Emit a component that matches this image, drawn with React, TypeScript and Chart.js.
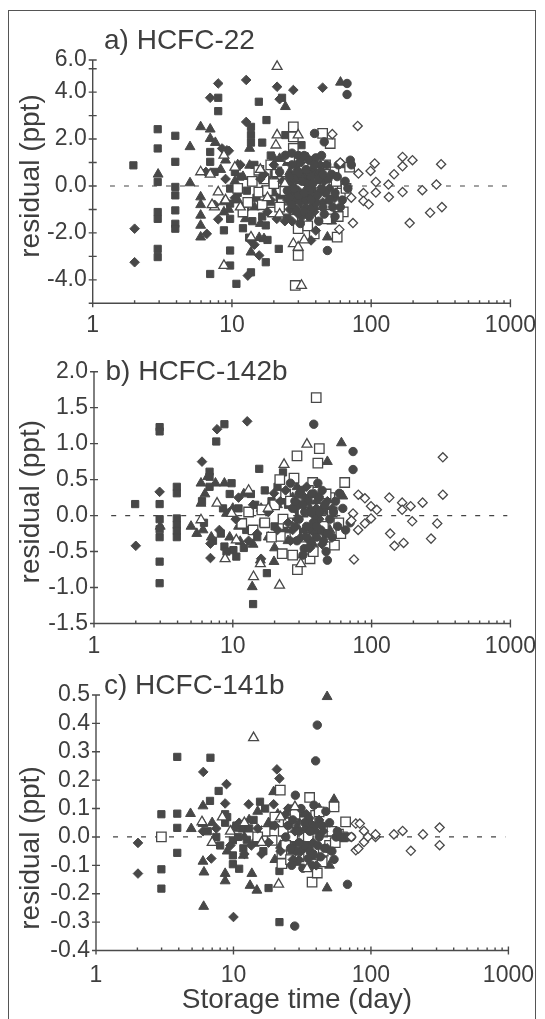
import React, { useEffect, useRef } from "react";
import { Chart, registerables } from "chart.js";

Chart.register(...registerables);

type Pt = [number, number];

// ---------------- axis values ----------------
const xTickValues = [1, 2, 3, 4, 5, 6, 7, 8, 9, 10, 20, 30, 40, 50, 60, 70, 80, 90, 100, 200, 300, 400, 500, 600, 700, 800, 900, 1000];
const xLabelValues = [1, 10, 100, 1000];

const yTickValuesA = [-5, -4, -3, -2, -1, 0, 1, 2, 3, 4, 5, 5.37];
const yTickLabelsA = ["", "-4.0", "", "-2.0", "", "0.0", "", "2.0", "", "4.0", "", "6.0"];
const yTickValuesB = [-1.5, -1, -0.5, 0, 0.5, 1, 1.5, 2];
const yTickLabelsB = ["-1.5", "-1.0", "-0.5", "0.0", "0.5", "1.0", "1.5", "2.0"];
const yTickValuesC = [-0.4, -0.3, -0.2, -0.1, 0, 0.1, 0.2, 0.3, 0.4, 0.5];
const yTickLabelsC = ["-0.4", "-0.3", "-0.2", "-0.1", "0.0", "0.1", "0.2", "0.3", "0.4", "0.5"];

const zeroLine: Pt[] = [[1.33, 0], [950, 0]];

// ---------------- panel a) HCFC-22 ----------------
const sqA: Pt[] = [[1.96,0.88],[2.93,2.42],[2.93,1.6],[2.93,0.17],[2.93,-1.11],[2.93,-1.4],[2.93,-2.68],[2.93,-3.03],
  [3.92,2.14],[3.92,1.03],[3.92,-0.04],[3.92,-0.4],[3.92,-1.04],[3.92,-1.61],[3.92,-1.82],
  [7.97,3.76],[7.97,3.19],[6.98,1.45],[6.98,1.03],[7.5,0.6],[9.7,-0.11],[9.7,-0.75],[9.7,-1.4],[9.7,-2.75],[9.7,-3.39],
  [8.76,-1.89],[6.98,-3.75],[10.77,-4.17],[13.7,-3.68],[13.7,2.52],[13.7,2.17],[13.7,1.85],[16.5,1.85],[15.6,3.59],
  [17.7,2.81],[22.9,3.76],[24.2,2.17],[31.6,1.74],[21.7,-2.68],[17.5,-3.25],[17.5,-1.68],[11,-0.3],[12.5,-0.9],
  [14,-1.5],[15,-0.5],[16.5,-1.3],[11.5,0.4],[19.5,-0.1],[26,0.3],[33,-0.8],[36,0.9],[13.3,-2.2],[12.8,-0.2],
  [20,0.5],[22,-0.5],[25,-1.3],[28,-0.3],[30,-0.6],[34,0.4],[38,-0.2],[10.5,0.6],[12,-1.8],[14.5,0.9],[18,-2.3],[19,1.3]];
const dmA: Pt[] = [[2,-1.82],[2,-3.25],[7.97,4.37],[12.66,4.52],[21.1,4.23],[27.6,4.09],[44.8,4.19],[6.98,3.76],[12.66,2.73],
  [7.97,-1.42],[6.6,-2.04],[13,-3.82],[15.7,-2.96],[9.2,1.52],[37,-2.32],[8.5,1.6],[9.5,1.5],[14.5,-2.5],[22,3.7],
  [18,-1.1],[25,-0.6],[28,0.5],[30,-0.2],[34,-0.9],[38,0.7],[42,-0.3],[46,0.2],[55,-0.5],[20,0.9],[16,0.3],[11.5,0.9],
  [24,-1.5],[32,-1.3],[40,-1.9],[6.5,0.6],[7.5,-0.8],[13.5,-2.3],
  [23,0.2],[26,-1.0],[29,0.9],[33,0.2],[36,-0.4],[39,-1.1],[43,0.9],[50,-0.1],[19,-0.6],[21,-1.4],[27,-1.5],[31,-0.7],
  [35,0.6],[45,-0.7],[17,0.5],[10.5,-0.5],[9,0.3],
  [28,-0.6],[31,0.4],[34,-0.3],[37,-1.0],[40,0.5],[30,-1.2],[26,0.1],[35,-0.1]];
const trA: Pt[] = [[5,1.67],[5,0.13],[2.95,0.5],[5.96,2.52],[6.98,2.42],[6.98,2.02],[7.6,1.85],[5.96,-0.47],[5.96,-1.25],
  [5.96,-2.18],[5.96,-1.68],[5.96,-0.8],[8.76,-0.68],[8.76,-1.11],[13.4,1.6],[13.4,0.88],[13.7,-2.82],[24.2,3.38],
  [60.2,4.42],[22,1.17],[15.7,-2.2],[17,-2.25],[48.5,-2.18],[8.3,0.7],[9,1.1],[11,0.9],[12,0.4],[14.5,-0.9],[16,-1.6],
  [19,-0.7],[21,0.4],[25,1.0],[27,-0.4],[29,-1.1],[31,0.2],[35,1.2],[38,-0.6],[45,0.9],[62,0.9],[20,-0.3],[9.5,-1.0],[12.5,-1.4],
  [23,-0.8],[26,0.6],[28,-0.9],[33,-0.1],[37,0.3],[41,-1.1],[18,0.3],[20,1.2],[10.5,0.2],[11,-0.6],[30,0.8],[44,-0.4],
  [52,-1.5],[16.5,-0.2],
  [30,-0.5],[33,0.5],[36,-0.8],[39,0.5],[27,0.0],[24,-0.5]];
const ciA: Pt[] = [[39.2,2.24],[46,1.88],[67.1,4.37],[67.1,3.9],[48.5,-2.75],[24.2,1.31],[70.8,1.1],[27,0.9],[30,1.3],
  [33,1.3],[36,1.1],[40,1.2],[43,0.6],[47,-0.3],[50,-0.6],[55,-1.3],[60,-0.9],[65,0.2],[72,0.9],[26,-0.5],[29,-1.0],
  [32,-0.4],[35,0.1],[38,-0.9],[42,-1.5],[45,-0.9],[52,0.5],[58,0.9],[68,-0.1],[28,0.3],[31,-1.6],[44,1.3],[55,-0.3],
  [22,0.6],[25,-0.2],[27,1.4],[30,0.6],[34,-0.6],[37,0.4],[41,-0.4],[46,-1.2],[49,0.3],[53,-0.9],[57,0.4],[62,-0.6],
  [33,-1.1],[39,0.9],[29,-0.2],[44,-0.1],[48,0.9],[36,-1.3],[26,0.4],[31,1.0],
  [27,-0.8],[30,-0.4],[32,0.2],[34,0.7],[36,-0.2],[38,0.1],[40,-0.7],[42,0.3],[45,0.5],[33,-0.3],[28,-0.1],[37,-0.6]];
const otA: Pt[] = [[21.1,5.09],[5.96,0.6],[6.98,0.5],[8.76,1.31],[21.1,2.17],[20.7,1.74],[29.9,2.17],[7.97,-0.26],[7.5,-0.9],
  [13.7,-2.18],[27.6,-2.46],[29.9,-2.61],[8.76,-3.39],[31.6,-4.24],[10.5,0.8],[11.5,-0.9],[16,0.7],[18,-0.5],[22,-1.2],
  [24,0.1],[7.2,-0.8],[9,-0.6],[33,-2.3]];
const osA: Pt[] = [[27.6,2.52],[27.6,2.09],[27.6,1.6],[44.8,2.24],[50.8,1.81],[15.6,0.67],[12,-1.11],[15.6,-0.26],
  [22.9,-0.75],[29.9,-1.82],[29.9,-2.96],[28.5,-4.24],[54,0.6],[57,-2.18],[39,-2.04],[19.6,-1.11],[13,-0.7],[17,0.3],
  [21,0.6],[24,-0.2],[26,1.2],[33,0.8],[36,-0.5],[40,0.3],[43,-1.2],[47,0.9],[50,-0.8],[53,-0.2],[60,-0.3],[63,-1.1],
  [66,-0.1],[70,0.8],[32,-1.4],[35,-1.7],[25,-1.0],[19,0.9],[23,0.2],
  [18,-0.2],[20,0.1],[22,-0.9],[26,-0.6],[29,0.4],[31,-0.1],[34,-0.9],[38,1.0],[42,0.6],[45,-0.4],[48,-1.4],[56,0.2],
  [58,-1.3],[11,-0.1],[14,0.2],[16.5,-0.8]];
const odA: Pt[] = [[80,2.56],[52.6,2.21],[106,0.96],[99,0.64],[146,0.5],[168,1.24],[198,1.1],[168,0.84],[318,0.93],
  [108,0.17],[133,0.06],[294,0.06],[88,-0.3],[108,-0.28],[134,-0.47],[168,-0.26],[233,-0.18],[88,-0.64],[96,-0.78],
  [74,-1.58],[189,-1.58],[265,-1.14],[322,-0.9],[59,-1.85],[81,0.53],[72,-0.5],[60,1.0]];

// ---------------- panel b) HCFC-142b ----------------
const sqB: Pt[] = [[1.98,0.16],[2.97,1.23],[2.97,1.17],[2.97,0.16],[2.97,-0.05],[2.97,-0.19],[2.97,-0.3],[2.97,-0.64],
  [2.97,-0.94],[3.95,0.4],[3.95,0.31],[3.95,-0.04],[3.95,-0.13],[3.95,-0.21],[3.95,-0.3],[7.6,1.03],[8.7,1.27],[6.8,0.61],
  [6.8,0.54],[6.8,0.4],[8.7,-0.43],[10.1,-0.48],[15.5,0.65],[17.6,-0.8],[14,-1.23],[9.8,0.45],[10.6,-0.57],[9.5,0.3],
  [11,0.1],[12.5,-0.2],[13.5,0.3],[15,-0.3],[16.5,-0.1],[19,0.2],[23,0.6],[8.2,-0.25],[6.2,-0.1],[6,0.2],
  [17,0.35],[20,-0.15],[21,0.4],[25,0.15],[28,-0.3],[30,0.05],[14.5,0.15],[12,-0.45],[8.5,0.1],[7.2,-0.35],[9,-0.5]];
const dmB: Pt[] = [[2,-0.42],[2.97,0.33],[6,0.75],[6.9,-0.59],[7.7,1.2],[12.7,1.31],[6.9,-0.39],[19.8,0.31],[22,0.2],
  [16,-0.6],[25,-0.1],[28,0.1],[31,-0.3],[34,0.4],[37,-0.2],[40,0.1],[44,-0.4],[48,0.2],[11,0.25],[13,-0.35],[8,-0.2],[9.5,0.05],
  [18,0.05],[21,-0.2],[24,0.35],[26,-0.35],[29,-0.05],[33,0.25],[36,-0.45],[39,0.3],[42,-0.05],[46,-0.25],[52,0.1],
  [14,0.15],[15,-0.25],[10.5,-0.05],
  [30,0.15],[33,-0.2],[36,0.05],[39,-0.25],[27,-0.2]];
const trB: Pt[] = [[3,-0.15],[5,-0.15],[5.9,0.45],[5.9,0.17],[6.6,0.54],[8.7,0.45],[9,0.03],[6.1,-0.2],[13.8,-0.99],
  [15.8,-0.62],[19.8,-0.64],[48,0.75],[60.6,1.01],[62,0.27],[29,0.4],[11.3,-0.36],[12,0.3],[14,-0.4],[21,0.15],[24,-0.2],
  [27,0.25],[32,-0.55],[36,0.1],[42,-0.1],[6.3,0.3],[7.5,0.45],[5.5,-0.25],
  [16,0.1],[18,-0.3],[20,-0.45],[23,0.2],[25,-0.35],[30,-0.2],[34,0.3],[38,-0.4],[40,0.2],[45,0.05],[50,-0.2],[10,0.1],
  [9.5,-0.3],[7,-0.3],[11,-0.15]];
const ciB: Pt[] = [[38.3,1.27],[73.5,0.89],[73.5,0.64],[48,-0.62],[47,-0.5],[58.6,0.31],[32.7,-0.46],[30,0.3],[35,0.2],
  [38,-0.1],[42,0.25],[45,0.1],[50,-0.05],[55,0.2],[65,-0.2],[70,-0.1],[28,-0.15],[33,0.05],[40,-0.3],[52,-0.3],[26,0.45],
  [36,-0.35],[44,0.35],
  [27,0.1],[29,-0.35],[31,0.35],[34,-0.15],[37,0.3],[39,0.0],[43,-0.2],[46,0.15],[48,-0.25],[53,0.05],[57,-0.15],[62,0.1],
  [32,-0.55],[41,0.45],[35,-0.45],
  [30,-0.05],[32,0.15],[34,-0.3],[37,0.05],[40,-0.15],[42,0.05],[45,-0.35],[28,0.2]];
const otB: Pt[] = [[34.2,0.99],[7.7,0.17],[8.8,-0.6],[9.8,0.03],[10.6,-0.34],[14.1,-0.85],[21.7,-0.97],[23.4,0.71],
  [15.8,-0.67],[30.9,-0.67],[5.9,-0.06],[13,0.35],[18,0.1]];
const osB: Pt[] = [[39.9,1.64],[42,0.93],[41,0.73],[29,0.83],[27.6,0.52],[21.8,0.5],[37.6,0.46],[64,0.46],[29.2,-0.75],
  [22,-0.29],[22.7,-0.53],[54,-0.41],[11.6,-0.11],[16.2,0.08],[25,-0.1],[27,-0.55],[33,-0.3],[45,-0.15],[50,0.25],
  [58,-0.1],[19,-0.3],[14,-0.2],[31,0.15],[47,0.3],[24,0.3],[36,-0.6],
  [17,-0.1],[20,0.15],[23,-0.05],[26,0.2],[28,-0.25],[32,0.05],[35,0.35],[38,-0.5],[43,0.1],[48,-0.3],[52,0.05],[60,-0.25],[13,0.05]];
const odB: Pt[] = [[326,0.81],[326,0.29],[80.2,0.29],[89.5,0.24],[73.5,0.03],[71.5,-0.07],[80,-0.2],[89.5,-0.11],
  [99,-0.04],[99,0.13],[109,0.08],[134,0.25],[166,0.18],[166,0.08],[191,0.13],[233,0.18],[196,-0.08],[136,-0.25],
  [146,-0.42],[170,-0.38],[268,-0.32],[297,-0.11],[74.6,-0.61]];

// ---------------- panel c) HCFC-141b ----------------
const sqC: Pt[] = [[2.99,-0.114],[2.99,-0.182],[2.99,0.08],[3.9,0.282],[3.9,0.082],[3.9,0.032],[3.9,-0.056],[6.8,0.279],
  [6.75,0.127],[7.8,0.162],[8.7,0.08],[8.7,0.05],[9.9,-0.012],[9.9,-0.065],[9.9,-0.096],[11,-0.112],[15.6,0.124],
  [18,-0.18],[21.6,-0.3],[21.6,-0.12],[12.5,-0.01],[14.5,-0.02],[16.5,-0.05],[11.5,0.03],[7.5,0.0],[9,0.07],[10.5,0.04],
  [13,0.03],[17,0.1],
  [19,0.04],[23,-0.06],[26,0.1],[28,-0.03],[11.8,-0.04],[8,-0.03],[6.5,0.02],[14,0.06],[10.8,0.0]];
const dmC: Pt[] = [[2.02,-0.021],[2.02,-0.129],[6.03,0.229],[6.9,-0.076],[8.9,0.186],[8.7,0.118],[12.9,0.115],[10,-0.282],
  [20.7,0.238],[21.6,0.206],[19.6,0.115],[6,0.02],[11,0.05],[13.5,-0.03],[16,-0.06],[24,0.08],[28,0.02],[32,-0.04],
  [36,0.05],[40,-0.1],[45,0.02],
  [15,0.03],[18,-0.02],[20,0.04],[22,-0.05],[25,0.1],[30,-0.08],[34,0.08],[38,-0.02],[42,0.06],[48,-0.04],[12,-0.06],
  [9.5,-0.03],[7.5,0.03],
  [29,0.03],[31,-0.05],[35,0.06],[27,-0.08]];
const trC: Pt[] = [[48,0.494],[4.87,0.082],[4.93,0.029],[6,0.109],[6,0.047],[6,-0.086],[6.1,-0.124],[6.07,-0.245],
  [8.7,-0.129],[8.7,-0.155],[11.8,-0.065],[13.6,-0.129],[13.2,-0.171],[14.8,-0.188],[19.6,0.159],[48,-0.18],
  [53.9,0.132],[53.9,0.115],[13,0.06],[15,0.09],[21,0.08],[24,0.01],[27,-0.05],[30,0.05],[35,-0.03],[40,0.02],
  [12,0.0],[20,-0.08],[44,-0.06],
  [16,0.02],[18,0.05],[22,-0.03],[25,0.05],[29,-0.09],[32,0.08],[37,-0.07],[42,0.1],[46,0.03],[50,-0.1],[10,0.03],
  [9,-0.05],[7,0.05]];
const ciC: Pt[] = [[40.7,0.394],[39.6,0.268],[28.2,0.147],[35.3,0.065],[67.5,-0.167],[27.9,-0.314],[35,-0.076],
  [26.5,-0.1],[53.9,-0.079],[55.8,0.0],[60,0.0],[64,0.0],[68,0.0],[72,0.0],[38.5,0.112],[30,0.02],[33,-0.03],[42,0.0],
  [46,-0.04],[50,0.05],[25,0.04],[37,-0.1],[44,0.04],
  [24,0.0],[27,0.06],[29,-0.05],[31,0.1],[34,0.03],[36,-0.05],[39,0.04],[43,-0.07],[47,0.09],[52,-0.05],[57,0.02],
  [32,-0.11],[41,-0.03],
  [30,-0.02],[33,0.05],[36,0.02],[38,-0.06],[26,-0.04]];
const otC: Pt[] = [[14,0.349],[5.9,0.053],[8.3,0.07],[28,0.106],[21.3,-0.167],[34.3,-0.112],[16,-0.02],[9.5,0.02],
  [12,0.05],[22,0.07],[7,-0.02]];
const osC: Pt[] = [[2.99,0.0],[21.9,0.165],[35.8,0.139],[39.6,0.076],[42,0.088],[53.9,0.106],[65.4,0.053],[37.3,-0.159],
  [40.7,-0.127],[44.2,-0.088],[22.5,-0.059],[22.5,-0.094],[19.1,-0.012],[27,0.0],[30,-0.07],[33,0.04],[47,0.02],
  [58,0.01],[25,0.05],[17,0.02],[50,-0.03],[62,0.0],[24,-0.03],
  [20,0.07],[23,0.02],[26,-0.08],[28,0.08],[31,-0.03],[35,0.0],[38,0.05],[45,-0.05],[52,0.02],[55,-0.02],[15,0.0]];
const odC: Pt[] = [[316,0.033],[316,-0.029],[239,0.009],[195,-0.049],[170,0.021],[147,0.009],[108,0.0],[108,0.009],
  [89,0.021],[89,-0.018],[77.6,0.047],[83,0.047],[77.6,-0.047],[81,-0.041],[72,0.0],[95,0.0]];

// ---------------- styling ----------------
const FONT = '"Liberation Sans", Arial, Helvetica, sans-serif';
const INK = "#484848";
const TEXT = "#3e3e3e";

type Series = { sq: Pt[]; dm: Pt[]; tr: Pt[]; ci: Pt[]; ot: Pt[]; os: Pt[]; od: Pt[] };

type PanelCfg = {
  title: string;
  top: number;
  height: number;
  area: { left: number; right: number; top: number; bottom: number };
  yMin: number;
  yMax: number;
  yTicks: number[];
  yLabels: string[];
  series: Series;
  titlePos: [number, number];
  yTitleY: number;
  xPad: number;
  xTitle?: { text: string; x: number; y: number };
};

const panels: PanelCfg[] = [
  {
    title: "a) HCFC-22", top: 0, height: 340,
    area: { left: 92.7, right: 520.7, top: 60, bottom: 303.3 },
    yMin: -5, yMax: 5.37, yTicks: yTickValuesA, yLabels: yTickLabelsA,
    series: { sq: sqA, dm: dmA, tr: trA, ci: ciA, ot: otA, os: osA, od: odA },
    titlePos: [104, 41], yTitleY: 176, xPad: 9,
  },
  {
    title: "b) HCFC-142b", top: 340, height: 330,
    area: { left: 94, right: 520.7, top: 31.7, bottom: 283.5 },
    yMin: -1.5, yMax: 2, yTicks: yTickValuesB, yLabels: yTickLabelsB,
    series: { sq: sqB, dm: dmB, tr: trB, ci: ciB, ot: otB, os: osB, od: odB },
    titlePos: [105.5, 32.5], yTitleY: 161.7, xPad: 9,
  },
  {
    title: "c) HCFC-141b", top: 670, height: 349,
    area: { left: 96, right: 523, top: 25, bottom: 280.5 },
    yMin: -0.4, yMax: 0.5, yTicks: yTickValuesC, yLabels: yTickLabelsC,
    series: { sq: sqC, dm: dmC, tr: trC, ci: ciC, ot: otC, os: osC, od: odC },
    titlePos: [104, 16.5], yTitleY: 178, xPad: 11,
    xTitle: { text: "Storage time (day)", x: 297, y: 330 },
  },
];

function pts(d: Pt[]) {
  return d.map(([x, y]) => ({ x, y }));
}

function markerSet(data: Pt[], style: string, radius: number, open: boolean, order: number) {
  return {
    type: "scatter" as const,
    data: pts(data),
    order,
    clip: false,
    pointStyle: style,
    pointRadius: radius,
    pointHoverRadius: radius,
    pointBackgroundColor: open ? "#ffffff" : INK,
    pointBorderColor: INK,
    pointBorderWidth: open ? 1.3 : 1,
    showLine: false,
  };
}

const framePlugin = {
  id: "frame",
  beforeDatasetsDraw(chart: any) {
    const o = chart.options.plugins.frame;
    const { ctx, chartArea } = chart;
    const { left, right, top, bottom } = chartArea;
    const x = chart.scales.x;
    const y = chart.scales.y;
    ctx.save();
    ctx.strokeStyle = "#4a4a4a";
    ctx.lineWidth = 1.4;
    ctx.beginPath();
    ctx.moveTo(left, top);
    ctx.lineTo(left, bottom);
    ctx.moveTo(left - 4, bottom);
    ctx.lineTo(right, bottom);
    for (const t of y.ticks) {
      const py = y.getPixelForValue(t.value);
      ctx.moveTo(left - 4, py);
      ctx.lineTo(left + 4, py);
    }
    for (const t of x.ticks) {
      const px = x.getPixelForValue(t.value);
      if (xLabelValues.includes(t.value)) {
        ctx.moveTo(px, bottom - 4);
        ctx.lineTo(px, bottom + 4);
      } else {
        ctx.moveTo(px, bottom - 3);
        ctx.lineTo(px, bottom);
      }
    }
    ctx.stroke();
    ctx.fillStyle = TEXT;
    ctx.textBaseline = "middle";
    ctx.textAlign = "left";
    ctx.font = `28px ${FONT}`;
    ctx.fillText(o.title, o.titlePos[0], o.titlePos[1]);
    ctx.save();
    ctx.translate(31, o.yTitleY);
    ctx.rotate(-Math.PI / 2);
    ctx.textAlign = "center";
    ctx.fillText("residual (ppt)", 0, 0);
    ctx.restore();
    if (o.xTitle) {
      ctx.textAlign = "center";
      ctx.fillText(o.xTitle.text, o.xTitle.x, o.xTitle.y);
    }
    ctx.restore();
  },
};

function buildConfig(p: PanelCfg): any {
  const padLeft = 10;
  const s = p.series;
  return {
    type: "scatter",
    data: {
      datasets: [
        {
          type: "line",
          data: pts(zeroLine),
          order: 20,
          borderColor: "#444",
          borderWidth: 1.2,
          borderDash: [5, 9],
          pointRadius: 0,
          fill: false,
        },
        markerSet(s.sq, "rect", 5.1, false, 7),
        markerSet(s.tr, "triangle", 5.7, false, 6),
        markerSet(s.os, "rect", 6.7, true, 5),
        markerSet(s.dm, "rectRot", 4.8, false, 4),
        markerSet(s.ci, "circle", 4.2, false, 3),
        markerSet(s.ot, "triangle", 5.7, true, 2),
        markerSet(s.od, "rectRot", 4.6, true, 1),
      ],
    },
    options: {
      animation: false,
      responsive: false,
      devicePixelRatio: 1,
      events: [],
      layout: {
        padding: { left: padLeft, right: 545 - p.area.right, top: p.area.top, bottom: 0 },
      },
      plugins: {
        legend: { display: false },
        tooltip: { enabled: false },
        frame: { title: p.title, titlePos: p.titlePos, yTitleY: p.yTitleY, xTitle: p.xTitle },
      },
      scales: {
        x: {
          type: "logarithmic",
          min: 1,
          max: 1000,
          afterBuildTicks: (sc: any) => {
            sc.ticks = xTickValues.map((v) => ({ value: v }));
          },
          afterFit: (sc: any) => {
            sc.height = p.height - p.area.bottom;
          },
          grid: { display: false, drawTicks: false },
          border: { display: false },
          ticks: {
            autoSkip: false,
            maxRotation: 0,
            minRotation: 0,
            padding: p.xPad,
            color: TEXT,
            font: { family: FONT, size: 23 },
            callback: (v: number) => (xLabelValues.includes(v) ? String(v) : ""),
          },
        },
        y: {
          type: "linear",
          min: p.yMin,
          max: p.yMax,
          afterBuildTicks: (sc: any) => {
            sc.ticks = p.yTicks.map((v) => ({ value: v }));
          },
          afterFit: (sc: any) => {
            sc.width = p.area.left - padLeft;
          },
          grid: { display: false, drawTicks: false },
          border: { display: false },
          ticks: {
            autoSkip: false,
            padding: 6,
            color: TEXT,
            font: { family: FONT, size: 23 },
            callback: (_v: number, i: number) => p.yLabels[i],
          },
        },
      },
    },
    plugins: [framePlugin],
  };
}

function Panel({ cfg }: { cfg: PanelCfg }) {
  const ref = useRef<HTMLCanvasElement>(null);
  useEffect(() => {
    const chart = new Chart(ref.current as HTMLCanvasElement, buildConfig(cfg));
    return () => chart.destroy();
  }, [cfg]);
  return (
    <canvas
      ref={ref}
      width={545}
      height={cfg.height}
      style={{ position: "absolute", left: 0, top: cfg.top, width: 545, height: cfg.height }}
    />
  );
}

export default function App() {
  return (
    <div style={{ position: "absolute", left: 0, top: 0, width: 545, height: 1019, background: "#fff", overflow: "hidden" }}>
      <div
        style={{
          position: "absolute",
          left: 8,
          top: 10,
          width: 528,
          height: 1020,
          borderLeft: "1.5px solid #555",
          borderTop: "1.5px solid #555",
          borderRight: "1.5px solid #555",
          boxSizing: "border-box",
        }}
      />
      {panels.map((p) => (
        <Panel key={p.title} cfg={p} />
      ))}
    </div>
  );
}
